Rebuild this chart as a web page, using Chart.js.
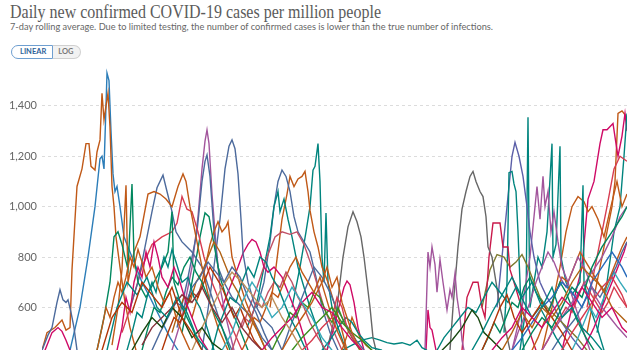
<!DOCTYPE html>
<html>
<head>
<meta charset="utf-8">
<script src="https://cdn.jsdelivr.net/npm/chart.js@4"></script>
<style>
  body { margin: 0; background: #fff; width: 627px; height: 350px; overflow: hidden; position: relative; font-family: Lato, sans-serif; }
  #title { position: absolute; left: 10px; top: 1px; font-family: 'Liberation Serif', serif; font-size: 19px; color: #5b5b5b; white-space: nowrap; transform-origin: 0 0; }
  #subtitle { position: absolute; left: 10px; top: 20px; font-size: 10px; color: #666; white-space: nowrap; transform-origin: 0 0; }
  .toggle { position: absolute; left: 11px; top: 45px; height: 14px; display: flex; font-size: 7.5px; font-weight: bold; }
  .toggle span { display: block; line-height: 12px; padding: 0 6px; border: 1px solid #d0d0d0; }
  .toggle .on { color: #2f5f9a; border-color: #6f9fd0; border-radius: 8px 0 0 8px; background: #fff; padding: 0 6px 0 8px; }
  .toggle .off { color: #777; background: #f2f2f2; border-left: none; border-radius: 0 8px 8px 0; padding: 0 7px 0 5px; }
  #wrap { position: absolute; left: 0; top: 58px; }
</style>
</head>
<body>
<div id="title">Daily new confirmed COVID-19 cases per million people</div>
<div id="subtitle">7-day rolling average. Due to limited testing, the number of confirmed cases is lower than the true number of infections.</div>
<div class="toggle"><span class="on">LINEAR</span><span class="off">LOG</span></div>
<div id="wrap"><canvas id="myChart" width="627" height="292"></canvas></div>
<script>
'use strict';

// x = days since start of the plotted window, y = cases per million
let yTicks = [600, 800, 1000, 1200, 1400];

let earlyOrange = [[0,430],[5,500],[13,520],[20,550],[24,510],[28,520],[30,750],[33,950],[35,1080],[40,1150],[44,1250],[47,1250],[49,1160],[53,1145],[55,1217],[58,1265],[60,1450],[62,1345],[64,1400],[66,1450],[68,1315],[70,1080],[72,1000],[74,880],[78,760],[83,620],[88,520],[94,430]];
let earlyBlue = [[28,430],[38,600],[46,800],[53,1000],[58,1190],[60,1200],[62,1150],[64,1400],[65,1530],[67,1500],[69,1300],[71,1130],[73,1060],[75,1080],[78,1000],[82,880],[88,820],[94,760],[100,700],[108,640],[118,560],[128,480],[136,430]];
let earlySlate = [[0,430],[6,490],[10,520],[15,620],[18,670],[21,630],[24,620],[26,630],[29,580],[32,520],[35,430]];
let earlyPink = [[3,430],[10,500],[16,520],[20,505],[24,470],[28,430]];
let spikeGreen = [[55,430],[62,560],[68,700],[72,880],[76,900],[80,850],[86,750],[90,1090],[92,800],[96,700],[104,640],[112,700],[120,760],[126,820],[130,980],[132,700],[140,600],[150,520],[160,430]];
let spikeOrange = [[70,450],[76,600],[80,750],[84,1085],[86,700],[92,820],[98,880],[106,1050],[112,1060],[118,1050],[124,1030],[130,1000],[136,1080],[141,1130],[144,1100],[148,1000],[154,880],[160,760],[168,620],[176,520],[186,430]];
let humpSlate = [[88,600],[96,700],[104,860],[110,980],[115,1075],[121,1125],[125,1060],[130,980],[134,900],[140,860],[150,820],[160,760],[170,640],[180,520],[190,430]];
let humpPink = [[80,500],[90,620],[100,760],[110,850],[120,880],[130,900],[135,935],[140,1040],[145,990],[150,980],[156,900],[162,800],[170,700],[180,600],[190,520],[200,430]];
let peakPurple = [[130,430],[140,560],[150,760],[156,960],[160,1150],[163,1260],[165,1305],[167,1250],[170,1050],[174,850],[178,680],[184,560],[192,430]];
let peakSlate = [[135,520],[145,700],[155,900],[160,1100],[163,1180],[165,1205],[168,1120],[172,900],[176,760],[182,700],[190,640],[200,600],[210,560],[220,480],[230,430]];
let peakGreen = [[140,500],[150,700],[158,880],[163,975],[167,960],[172,850],[178,720],[186,620],[196,530],[206,430]];
let zigOrange = [[150,560],[160,700],[168,850],[172,900],[176,940],[180,900],[184,920],[186,940],[190,800],[196,720],[204,620],[214,520],[224,430]];
let tallSlate = [[160,430],[170,700],[178,950],[183,1150],[187,1240],[190,1265],[193,1230],[196,1130],[199,950],[201,815],[206,700],[212,620],[220,560],[230,520],[240,430]];
let lowPink = [[180,600],[190,700],[196,760],[201,815],[206,850],[210,870],[214,860],[218,820],[222,760],[226,740],[232,760],[240,720],[248,640],[256,560],[266,430]];
let midSlate = [[215,600],[222,700],[228,860],[232,1000],[236,1100],[240,1145],[244,1120],[248,1060],[252,960],[256,900],[262,860],[268,820],[274,720],[280,600],[288,500],[296,430]];
let jagTeal = [[205,520],[215,620],[222,760],[228,880],[232,1000],[236,1060],[238,980],[242,1030],[246,950],[250,880],[256,760],[262,680],[268,600],[275,520],[282,430]];
let midOrange = [[228,600],[234,760],[240,950],[245,1050],[248,1120],[252,1080],[256,1110],[260,1120],[263,1140],[266,1060],[268,985],[272,900],[276,840],[280,760],[286,700],[292,620],[298,540],[305,430]];
let needleTeal = [[250,600],[258,760],[264,900],[268,1000],[271,1145],[273,1160],[276,1250],[278,1100],[280,800],[282,700],[284,975],[286,700],[290,600],[296,520],[304,430]];
let widePink = [[200,520],[215,680],[225,800],[233,880],[240,900],[248,890],[255,900],[262,850],[270,760],[276,680],[282,600],[290,520],[300,430]];
let loneGray = [[285,430],[295,600],[301,800],[306,920],[311,980],[315,940],[319,880],[322,800],[325,700],[328,600],[331,480],[334,430]];
let smallPink = [[285,430],[292,520],[298,620],[302,680],[305,705],[308,690],[312,620],[316,520],[322,430]];
let flatTeal = [[300,430],[310,450],[320,470],[330,480],[338,470],[345,460],[352,455],[360,460],[368,450],[375,470],[380,440],[385,430]];
let jagPurple = [[383,430],[386,820],[388,760],[390,840],[393,770],[395,660],[398,790],[401,700],[405,590],[408,670],[410,640],[413,735],[415,640],[418,560],[420,470],[422,430]];
let shortPink = [[384,430],[386,590],[388,520],[390,510],[392,470],[394,430]];
let lateGray = [[408,430],[411,600],[416,840],[420,990],[424,1060],[428,1120],[431,1140],[434,1100],[438,1060],[441,1040],[444,960],[446,840],[450,800],[454,700],[458,600],[463,520],[468,430]];
let blockCrimson = [[420,430],[425,640],[431,700],[436,700],[440,600],[443,560],[447,800],[451,935],[458,935],[461,840],[466,840],[468,750],[472,700],[478,620],[486,520],[494,430]];
let lateSlate = [[455,600],[460,800],[465,1000],[470,1200],[473,1255],[477,1200],[481,1120],[485,1000],[488,900],[492,800],[498,700],[505,640],[512,600],[520,540],[530,480],[540,430]];
let stepTeal = [[462,500],[465,700],[467,1135],[470,1140],[472,1090],[474,1060],[476,900],[478,700],[480,500],[482,430]];
let spikyTeal = [[478,430],[484,600],[485,1000],[486,1355],[487,900],[488,600],[492,700],[496,800],[500,760],[505,900],[510,1250],[511,800],[514,850],[518,1240],[519,800],[524,700],[530,650],[538,700],[541,1085],[542,700],[548,600],[555,520],[562,430]];
let jagViolet = [[470,430],[480,600],[488,800],[493,1000],[495,1080],[498,950],[501,1120],[503,1000],[506,1060],[509,900],[512,980],[516,860],[520,760],[526,700],[532,620],[540,520],[548,430]];
let humpOlive = [[440,600],[448,750],[455,810],[462,800],[468,760],[474,780],[480,810],[486,760],[492,700],[498,640],[505,600],[515,560],[525,520],[535,480],[545,430]];
let lateOrange = [[500,430],[510,600],[518,760],[524,900],[530,1000],[536,1040],[542,1020],[546,980],[550,1000],[556,950],[562,880],[568,985],[575,1100],[580,1000],[585,1050]];
let risingPink = [[520,430],[530,600],[540,760],[546,1030],[552,1100],[558,1250],[561,1305],[565,1305],[571,1330],[574,1250],[576,1200],[580,1280],[583,1370],[585,1300]];
let topOrange = [[545,500],[555,700],[565,900],[570,1000],[573,1100],[576,1370],[580,1380],[584,1360],[585,1340]];
let flatPink = [[545,600],[555,800],[565,1000],[572,1150],[578,1200],[585,1180]];
let climbTeal = [[555,500],[565,700],[572,900],[578,1000],[582,1200],[585,1370]];

let fillRed = [[60,430],[70,560],[80,620],[90,580],[100,700],[110,650],[120,600],[130,680],[140,560],[150,500],[160,430]];
let fillTeal = [[65,430],[75,600],[85,700],[95,650],[105,720],[115,600],[125,560],[135,640],[145,580],[155,480],[165,430]];
let fillDarkGreen = [[90,430],[100,500],[110,560],[120,520],[130,600],[140,560],[150,480],[160,520],[170,460],[180,430]];
let fillMaroon = [[100,450],[110,520],[120,560],[130,600],[140,650],[150,620],[160,680],[170,600],[180,540],[190,600],[200,520],[210,470],[220,430]];
let fillTan = [[150,430],[160,520],[170,600],[180,680],[190,740],[200,700],[210,650],[220,600],[230,640],[240,560],[250,500],[260,430]];
let fillTeal2 = [[180,430],[190,500],[200,620],[210,700],[220,640],[230,560],[240,600],[250,680],[260,620],[270,560],[280,480],[290,430]];
let fillPink = [[220,430],[230,480],[240,520],[250,560],[260,620],[270,660],[280,600],[290,580],[300,520],[310,470],[320,430]];
let fillOrange = [[240,430],[250,500],[260,560],[270,620],[280,700],[285,760],[290,680],[295,720],[300,620],[305,560],[310,500],[318,430]];
let fillGreen = [[250,430],[260,480],[270,520],[280,560],[290,600],[300,540],[310,500],[320,470],[330,430]];
let fillRed2 = [[260,430],[270,470],[280,520],[290,560],[295,640],[300,600],[305,520],[312,470],[320,430]];
let fillTeal3 = [[430,430],[440,500],[450,580],[460,650],[470,720],[480,640],[490,700],[500,600],[510,680],[520,560],[530,600],[540,520],[550,480],[560,430]];
let fillPink2 = [[450,430],[460,480],[470,520],[480,600],[490,560],[500,520],[510,580],[520,640],[530,600],[540,680],[550,620],[560,560],[570,600],[580,520],[585,500]];
let fillOrange2 = [[460,430],[470,500],[480,580],[490,520],[500,600],[510,560],[520,620],[530,700],[540,760],[550,720],[560,680],[570,600],[580,560],[585,540]];
let fillBlue = [[470,430],[480,480],[490,540],[500,600],[510,640],[520,700],[530,660],[540,600],[550,700],[560,760],[570,820],[580,760],[585,720]];
let fillGreen2 = [[480,430],[490,500],[500,560],[510,520],[520,600],[530,680],[540,640],[550,760],[560,840],[570,900],[580,960],[585,1000]];
let fillPurple = [[500,430],[510,500],[520,560],[530,620],[540,680],[550,740],[560,800],[570,880],[578,960],[585,1000]];
let fillCrimson = [[520,430],[530,500],[540,560],[550,620],[560,680],[570,720],[580,650],[585,600]];
let fillDarkGreen2 = [[400,430],[410,470],[420,520],[430,590],[436,560],[442,500],[450,470],[460,430]];
let fillRust = [[440,430],[450,520],[458,600],[465,650],[472,560],[480,500],[490,560],[500,620],[510,560],[520,500],[530,430]];

let tangleOrange = [[55,430],[60,520],[64,600],[68,560],[72,640],[76,700],[80,660],[84,720],[88,800],[92,760],[96,830],[100,780],[104,720],[110,760],[116,680],[122,620],[128,660],[134,560],[140,500],[148,430]];
let tanglePink = [[75,430],[80,520],[84,640],[88,580],[92,700],[96,760],[100,720],[104,820],[108,760],[112,860],[116,800],[120,720],[126,680],[132,760],[138,700],[144,620],[150,560],[158,480],[166,430]];
let tangleTeal = [[85,430],[90,500],[95,580],[100,560],[105,640],[110,700],[114,660],[118,740],[122,800],[126,760],[130,830],[134,780],[140,700],[146,720],[152,640],[158,600],[165,520],[172,430]];
let tangleGreen = [[100,430],[106,520],[112,600],[118,580],[124,660],[130,720],[136,690],[142,760],[148,800],[154,740],[160,700],[166,640],[172,580],[180,520],[188,430]];
let tangleSlate = [[110,430],[118,500],[126,560],[134,620],[142,600],[150,680],[158,720],[166,780],[174,740],[182,700],[190,760],[198,720],[206,640],[214,580],[222,500],[230,430]];
let tangleRed = [[120,430],[126,500],[132,560],[138,540],[144,600],[150,660],[156,640],[162,700],[168,760],[174,720],[180,680],[186,620],[192,560],[198,600],[204,540],[212,470],[220,430]];
let tangleOrange2 = [[130,500],[136,580],[142,640],[148,620],[154,700],[160,740],[166,800],[172,860],[178,820],[184,760],[190,700],[196,660],[202,600],[208,560],[216,500],[224,430]];
let tangleTeal2 = [[170,430],[176,520],[182,580],[188,640],[194,620],[200,700],[206,760],[212,720],[218,800],[224,780],[230,720],[236,680],[242,620],[248,560],[256,500],[264,430]];
let tanglePink2 = [[190,430],[196,500],[202,560],[208,540],[214,620],[220,600],[226,660],[232,700],[238,680],[244,740],[250,700],[256,640],[262,600],[268,540],[276,480],[284,430]];
let tangleOrange3 = [[200,430],[206,480],[212,560],[218,540],[224,600],[230,660],[236,640],[242,700],[248,760],[254,800],[260,740],[266,700],[272,660],[278,720],[284,640],[290,560],[296,500],[304,430]];
let tangleGreen2 = [[230,430],[236,480],[242,520],[248,580],[254,560],[260,620],[266,600],[272,660],[278,640],[284,580],[290,540],[296,600],[302,540],[310,480],[318,430]];
let tangleSlate2 = [[240,430],[248,520],[256,600],[264,680],[272,760],[280,720],[288,660],[294,600],[300,560],[306,520],[314,470],[322,430]];
let tangleTeal3 = [[395,430],[402,480],[410,520],[418,560],[426,600],[434,580],[442,640],[450,700],[458,660],[466,620],[474,680],[482,620],[490,560],[498,600],[506,540],[514,480],[522,430]];
let tangleGreen3 = [[440,430],[446,480],[452,540],[458,500],[464,560],[470,620],[476,600],[482,680],[488,720],[494,660],[500,620],[506,580],[512,640],[518,700],[524,660],[530,600],[536,540],[544,480],[552,430]];
let tanglePurple = [[470,430],[476,500],[482,560],[488,620],[494,700],[500,760],[506,820],[512,780],[518,720],[524,680],[530,740],[536,800],[542,760],[548,700],[554,640],[560,600],[568,560],[576,520],[585,480]];
let tangleOrange4 = [[490,430],[496,480],[502,540],[508,600],[514,660],[520,720],[526,700],[532,760],[538,820],[544,780],[550,740],[556,700],[562,660],[568,720],[574,780],[580,840],[585,880]];
let tangleRed2 = [[500,430],[506,470],[512,520],[518,560],[524,600],[530,580],[536,640],[542,700],[548,660],[554,620],[560,580],[566,620],[572,680],[578,640],[585,600]];
let tangleSlate3 = [[510,430],[518,480],[526,520],[534,560],[542,620],[550,680],[558,640],[566,700],[574,760],[580,820],[585,860]];
let tangleTeal4 = [[530,430],[536,480],[542,540],[548,600],[554,560],[560,620],[566,680],[572,740],[578,700],[585,660]];
let tanglePink3 = [[540,430],[546,470],[552,520],[558,580],[564,640],[570,700],[576,760],[582,820],[585,860]];
let tangleTeal5 = [[280,430],[288,470],[296,520],[304,560],[310,540],[316,500],[322,470],[330,440],[340,430]];
let tangleOrange5 = [[300,430],[306,500],[310,560],[314,520],[318,480],[324,450],[330,430]];

let seriesData = [
  fillRed, fillTeal, fillDarkGreen, fillMaroon, fillTan, fillTeal2, fillPink, fillOrange, fillGreen, fillRed2,
  fillTeal3, fillPink2, fillOrange2, fillBlue, fillGreen2, fillPurple, fillCrimson, fillDarkGreen2, fillRust,
  tangleOrange, tanglePink, tangleTeal, tangleGreen, tangleSlate, tangleRed, tangleOrange2, tangleTeal2, tanglePink2,
  tangleOrange3, tangleGreen2, tangleSlate2, tangleTeal3, tangleGreen3, tanglePurple, tangleOrange4, tangleRed2,
  tangleSlate3, tangleTeal4, tanglePink3, tangleTeal5, tangleOrange5,
  earlySlate, earlyPink, spikeGreen, spikeOrange, humpSlate, humpPink, peakGreen, zigOrange, peakSlate, peakPurple,
  tallSlate, lowPink, widePink, jagTeal, midSlate, midOrange, needleTeal, smallPink, loneGray, flatTeal,
  jagPurple, shortPink, lateGray, blockCrimson, humpOlive, stepTeal, lateSlate, jagViolet, spikyTeal,
  lateOrange, flatPink, climbTeal, risingPink, topOrange, earlyOrange, earlyBlue
];
let seriesColors = [
  '#B13507', '#00847E', '#18470F', '#883039', '#BC8E5A', '#38AABA', '#CF0A66', '#C05917', '#3B8E1D', '#D73C50',
  '#00847E', '#CF0A66', '#B16214', '#286BBB', '#00875E', '#A2559C', '#D73C50', '#18470F', '#B13507',
  '#C05917', '#CF0A66', '#00847E', '#00875E', '#4C6A9C', '#B13507', '#B16214', '#00847E', '#C15065',
  '#C05917', '#3B8E1D', '#4C6A9C', '#00847E', '#00875E', '#A2559C', '#C05917', '#D73C50',
  '#4C6A9C', '#38AABA', '#CF0A66', '#00847E', '#C05917',
  '#4C6A9C', '#CF0A66', '#00875E', '#C05917', '#4C6A9C', '#D73C50', '#00875E', '#C05917', '#4C6A9C', '#A2559C',
  '#4C6A9C', '#CF0A66', '#C15065', '#00847E', '#4C6A9C', '#C05917', '#00847E', '#CF0A66', '#666666', '#00847E',
  '#A2559C', '#CF0A66', '#666666', '#C9184A', '#7D7A2E', '#00847E', '#5B5FA8', '#A2559C', '#00847E',
  '#C05917', '#D73C50', '#00847E', '#CF0A66', '#C05917', '#C05917', '#2C7DB8'
];

let datasets = [];
for (let i = 0; i < seriesData.length; i++) {
  datasets.push({
    data: seriesData[i],
    borderColor: seriesColors[i],
    borderWidth: 1.4,
    pointRadius: 0,
    tension: 0,
    fill: false
  });
}

const ctx = document.getElementById('myChart');

let config = {
  type: 'line',
  data: { datasets: datasets },
  options: {
    responsive: false,
    animation: false,
    layout: { padding: 0 },
    plugins: { legend: { display: false }, tooltip: { enabled: false } },
    scales: {
      x: { type: 'linear', min: 0, max: 585, display: false },
      y: {
        min: 431,
        max: 1590,
        afterFit: function (scale) {
          scale.width = 42;
          scale.paddingTop = 0;
          scale.paddingBottom = 0;
        },
        afterBuildTicks: function (scale) {
          scale.ticks = yTicks.map(function (v) { return { value: v }; });
        },
        border: { display: false, dash: [3, 3] },
        grid: { color: '#dcdcdc', drawTicks: false, lineWidth: 1 },
        ticks: {
          padding: 5,
          color: '#666',
          font: { family: 'Lato', size: 11 },
          callback: function (v) { return v.toLocaleString('en-US'); }
        }
      }
    }
  }
};

new Chart(ctx, config);

function fitWidth(id, target) {
  let el = document.getElementById(id);
  let w = el.getBoundingClientRect().width;
  el.style.transform = 'scaleX(' + (target / w) + ')';
}
fitWidth('title', 371);
fitWidth('subtitle', 483);
</script>
</body>
</html>
